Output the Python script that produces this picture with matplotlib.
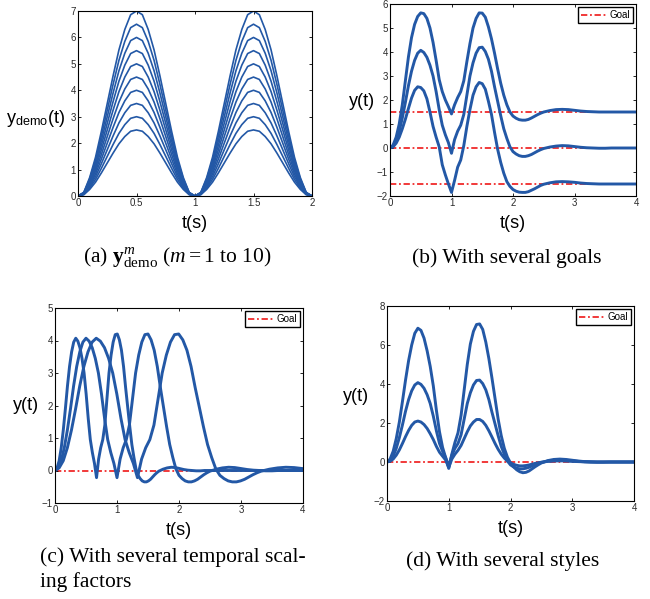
import numpy as np
import matplotlib.pyplot as plt
from matplotlib.ticker import FuncFormatter

# Fonts: sans for axes, Times-like serif for the captions
plt.rcParams['font.family'] = 'Liberation Sans'
plt.rcParams['mathtext.fontset'] = 'custom'
plt.rcParams['mathtext.rm'] = 'Liberation Serif'
plt.rcParams['mathtext.it'] = 'Liberation Serif:italic'
plt.rcParams['mathtext.bf'] = 'Liberation Serif:bold'
plt.rcParams['mathtext.sf'] = 'Liberation Sans'

# ---- data ----

# (a) demonstrations: one hump (t = 0..1, step 0.05) repeated, scaled by peak
demo_hump = [0.00, 0.02, 0.10, 0.21, 0.35, 0.50, 0.65, 0.79, 0.90, 0.98,
             1.00, 0.98, 0.90, 0.79, 0.65, 0.50, 0.35, 0.21, 0.10, 0.02, 0.00]
demo_peaks = [2.5, 3.0, 3.5, 4.0, 4.5, 5.0, 5.5, 6.0, 6.5, 7.0]

# time grid for (b), (c), (d)
t_sim = np.concatenate([np.round(np.arange(0, 2.51, 0.05), 2),
                        np.round(np.arange(2.6, 4.01, 0.1), 1),
                        [4.5, 5.0, 5.5, 6.0]])

# (b) goal = 0 (also base for (c) and middle of (d))
y_goal0 = [0.00, 0.08, 0.30, 0.70, 1.25, 1.90, 2.60, 3.20, 3.65, 3.95,
           4.07, 3.98, 3.78, 3.45, 3.00, 2.35, 1.60, 0.95, 0.55, 0.22,
           -0.22, 0.35, 0.70, 0.95, 1.40, 2.20, 3.00, 3.55, 3.95, 4.18,
           4.20, 4.02, 3.70, 3.20, 2.55, 1.95, 1.35, 0.80, 0.40, 0.05,
           -0.15, -0.25, -0.32, -0.35, -0.35, -0.32, -0.27, -0.20, -0.13, -0.07,
           -0.02,
           0.04, 0.08, 0.10, 0.09, 0.06, 0.03, 0.01, 0.00, -0.01, -0.01,
           0.00, 0.00, 0.00, 0.00, 0.00,
           0.00, 0.00, 0.00, 0.00]

# (b) goal = 1.5
y_goal_hi = [0.00, 0.12, 0.45, 1.00, 1.80, 2.80, 3.80, 4.60, 5.15, 5.48,
             5.63, 5.60, 5.40, 5.00, 4.40, 3.65, 2.85, 2.35, 2.00, 1.72,
             1.42, 1.80, 2.10, 2.35, 2.80, 3.60, 4.35, 5.00, 5.40, 5.63,
             5.62, 5.45, 5.05, 4.55, 3.95, 3.30, 2.70, 2.20, 1.80, 1.50,
             1.33, 1.24, 1.18, 1.16, 1.16, 1.19, 1.25, 1.32, 1.39, 1.45,
             1.50,
             1.56, 1.60, 1.61, 1.60, 1.57, 1.54, 1.52, 1.51, 1.50, 1.50,
             1.50, 1.50, 1.50, 1.50, 1.50,
             1.50, 1.50, 1.50, 1.50]

# (b) goal = -1.5
y_goal_lo = [0.00, 0.05, 0.20, 0.45, 0.80, 1.20, 1.65, 2.08, 2.40, 2.55,
             2.52, 2.38, 2.05, 1.50, 0.90, 0.45, 0.05, -0.70, -1.12, -1.50,
             -1.85, -1.35, -0.80, -0.50, 0.10, 0.90, 1.60, 2.20, 2.55, 2.73,
             2.68, 2.45, 1.95, 1.40, 0.65, -0.05, -0.60, -1.05, -1.40, -1.60,
             -1.73, -1.80, -1.84, -1.85, -1.85, -1.82, -1.76, -1.70, -1.63, -1.56,
             -1.51,
             -1.45, -1.41, -1.40, -1.41, -1.43, -1.46, -1.48, -1.49, -1.50, -1.50,
             -1.50, -1.50, -1.50, -1.50, -1.50,
             -1.50, -1.50, -1.50, -1.50]

goals_b = [1.5, 0.0, -1.5]

# (c) temporal scaling factors applied to the goal = 0 trajectory
time_scales = [0.67, 1.0, 1.33]

# (d) larger and smaller style
y_style_hi = [0.00, 0.15, 0.55, 1.20, 2.05, 3.10, 4.20, 5.20, 6.00, 6.60,
              6.86, 6.75, 6.35, 5.70, 4.90, 3.90, 2.65, 1.55, 0.75, 0.22,
              -0.33, 0.40, 1.00, 1.50, 2.40, 3.70, 5.00, 6.05, 6.70, 7.05,
              7.08, 6.80, 6.15, 5.30, 4.30, 3.25, 2.20, 1.35, 0.70, 0.25,
              -0.05, -0.25, -0.40, -0.50, -0.55, -0.53, -0.46, -0.35, -0.24, -0.14,
              -0.05,
              0.07, 0.13, 0.15, 0.13, 0.09, 0.05, 0.02, 0.01, 0.00, 0.00,
              0.00, 0.00, 0.00, 0.00, 0.00,
              0.00, 0.00, 0.00, 0.00]

y_style_lo = [0.00, 0.04, 0.15, 0.35, 0.62, 0.95, 1.30, 1.62, 1.88, 2.05,
              2.10, 2.05, 1.92, 1.72, 1.45, 1.15, 0.80, 0.50, 0.30, 0.10,
              -0.28, 0.15, 0.40, 0.60, 0.85, 1.20, 1.55, 1.85, 2.05, 2.18,
              2.18, 2.08, 1.88, 1.60, 1.28, 0.95, 0.65, 0.40, 0.20, 0.05,
              -0.05, -0.12, -0.17, -0.20, -0.20, -0.18, -0.15, -0.11, -0.07, -0.04,
              -0.01,
              0.03, 0.05, 0.06, 0.05, 0.03, 0.02, 0.01, 0.00, 0.00, 0.00,
              0.00, 0.00, 0.00, 0.00, 0.00,
              0.00, 0.00, 0.00, 0.00]

# ---- styling ----
blue = '#2358a6'
red = '#f02a2a'
goal_dash = (0, (3.5, 1.5, 1, 1.5))
W, H = 650, 599

# tick labels like 0.5, 1, -2 with a real minus sign
tick_fmt = FuncFormatter(lambda v, p: ('%g' % v).replace('-', '\u2212'))


def make_axes(l, t, r, b):
    # pixel box -> figure fraction
    return fig.add_axes([l / W, 1 - b / H, (r - l) / W, (b - t) / H])


def style_axes(ax, xlim, xticks, ylim, yticks, ylab, ylab_x, ylab_y):
    ax.set_xlim(xlim)
    ax.set_ylim(ylim)
    ax.set_xticks(xticks)
    ax.set_yticks(yticks)
    ax.xaxis.set_major_formatter(tick_fmt)
    ax.yaxis.set_major_formatter(tick_fmt)
    ax.tick_params(direction='in', top=True, right=True, length=2.5, width=0.6,
                   labelsize=7, pad=1.5, labelcolor='#2a2a2a')
    for s in ax.spines.values():
        s.set_linewidth(0.8)
    ax.set_xlabel('t(s)', fontsize=13, labelpad=5)
    ax.set_ylabel(ylab, fontsize=13, rotation=0, ha='right', va='center')
    ax.yaxis.set_label_coords(ylab_x, ylab_y)


def goal_legend(ax):
    leg = ax.legend(loc='upper right', fontsize=7, fancybox=False, framealpha=1,
                    edgecolor='black', handlelength=2.6, borderpad=0.3,
                    borderaxespad=0.35, handletextpad=0.3)
    leg.get_frame().set_linewidth(1.0)


fig = plt.figure(figsize=(6.5, 5.99), dpi=100)

# (a)
ax = make_axes(78, 11, 312, 196)
t_demo = np.round(np.arange(0, 2.001, 0.05), 2)
demo_profile = np.array(demo_hump + demo_hump[1:])
for peak in demo_peaks:
    ax.plot(t_demo, peak * demo_profile, color=blue, lw=1.2)
style_axes(ax, (0, 2), [0, 0.5, 1, 1.5, 2], (0, 7), range(0, 8),
           r'$\mathsf{y}_{\mathsf{demo}}\mathsf{(t)}$', -0.055, 0.42)

# (b)
ax = make_axes(390, 4, 636, 196)
for i, g in enumerate(goals_b):
    ax.axhline(g, color=red, lw=1.3, linestyle=goal_dash, zorder=1,
               label='Goal' if i == 0 else None)
for y in [y_goal_hi, y_goal0, y_goal_lo]:
    ax.plot(t_sim, y, color=blue, lw=2.1, zorder=2)
style_axes(ax, (0, 4), range(0, 5), (-2, 6), range(-2, 7), 'y(t)', -0.061, 0.49)
goal_legend(ax)

# (c)
ax = make_axes(55, 308, 303, 503)
ax.axhline(0, color=red, lw=1.3, linestyle=goal_dash, zorder=1, label='Goal')
for k in time_scales:
    ax.plot(t_sim * k, y_goal0, color=blue, lw=2.1, zorder=2)
style_axes(ax, (0, 4), range(0, 5), (-1, 5), range(-1, 6), 'y(t)', -0.065, 0.5)
goal_legend(ax)

# (d)
ax = make_axes(387, 306, 634, 501)
ax.axhline(0, color=red, lw=1.3, linestyle=goal_dash, zorder=1, label='Goal')
for y in [y_style_hi, y_goal0, y_style_lo]:
    ax.plot(t_sim, y, color=blue, lw=2.1, zorder=2)
style_axes(ax, (0, 4), range(0, 5), (-2, 8), range(-2, 9, 2), 'y(t)', -0.073, 0.535)
goal_legend(ax)

# captions
cap = dict(fontfamily='Liberation Serif', fontsize=15.5, va='baseline')
fig.text(177 / W, 1 - 263 / H,
         r'(a) $\mathbf{y}_{\mathrm{demo}}^{m}$ $(m = 1$ to $10)$', ha='center', **cap)
fig.text(507 / W, 1 - 263 / H, '(b) With several goals', ha='center', **cap)
fig.text(40 / W, 1 - 562 / H, '(c) With several temporal scal-', ha='left', **cap)
fig.text(40 / W, 1 - 587 / H, 'ing factors', ha='left', **cap)
fig.text(503 / W, 1 - 566 / H, '(d) With several styles', ha='center', **cap)

plt.savefig('out.png', dpi=100)
plt.close()
